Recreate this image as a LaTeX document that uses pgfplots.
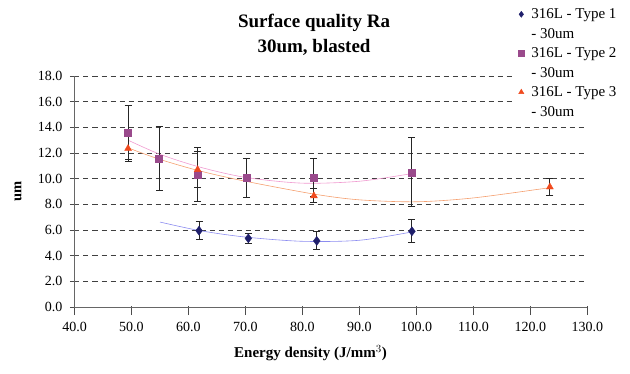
\documentclass[border=0pt]{standalone}
\usepackage{pgfplots}
\pgfplotsset{compat=1.18}
\usepackage{fontspec}
\setmainfont{Liberation Serif}
\definecolor{tOne}{HTML}{1F1F6B}
\definecolor{tTwo}{HTML}{9A4A8C}
\definecolor{tThree}{HTML}{F04A1E}
\definecolor{trOne}{HTML}{8C8CF0}
\definecolor{trTwo}{HTML}{F09AD0}
\definecolor{trThree}{HTML}{F5A070}
\begin{document}
\begin{tikzpicture}[x=1pt,y=1pt]
\useasboundingbox (0,0) rectangle (630,373);
\begin{axis}[
  at={(74.5pt,66pt)}, anchor=south west,
  scale only axis, width=513pt, height=231pt,
  xmin=40, xmax=130, ymin=0, ymax=18,
  xtick={40,50,...,130}, ytick={0,2,...,18},
  axis x line=bottom, axis y line=left,
  axis line style={-, black!60, line width=0.6pt},
  tick align=center, major tick length=9pt,
  tick style={black!70, line width=0.6pt},
  xtick style={yshift=-3.5pt},
  ymajorgrids, major grid style={dash pattern=on 5pt off 4pt, black!75, line width=0.6pt, yshift=0pt},
  ticklabel style={font=\fontsize{14}{16}\selectfont},
  /pgf/number format/assume math mode=true,
  xticklabel style={yshift=-7pt, /pgf/number format/.cd, fixed, fixed zerofill, precision=1},
  yticklabel style={xshift=-4pt, /pgf/number format/.cd, fixed, fixed zerofill, precision=1},
  xlabel={Energy density (J/mm$^{3}$)},
  xlabel style={font=\bfseries\fontsize{15}{17}\selectfont, at={(axis description cs:0.46,-0.2)}, anchor=center},
  ylabel={um},
  ylabel style={font=\bfseries\fontsize{14.5}{16}\selectfont, at={(axis description cs:-0.11,0.5)}, anchor=center},
  title={Surface quality Ra\\30um, blasted},
  title style={font=\bfseries\fontsize{19}{25}\selectfont, align=center, at={(axis description cs:0.467,1.257)}, anchor=north},
  legend style={at={(0.855,1.322)}, anchor=north west, draw=none, fill=white,
    font=\fontsize{15}{19.5}\selectfont, cells={align=left, inner sep=0pt}, row sep=4pt, column sep=5pt, inner sep=5pt},
  legend cell align=left,
  legend image post style={yshift=10pt, mark size=3pt},
]
% trend lines
\addplot[trOne, line width=0.6pt, smooth, forget plot] coordinates {
  (55,6.62) (62,5.95) (70,5.45) (80,5.12) (90,5.2) (99.2,5.85)};
\addplot[trTwo, line width=0.6pt, smooth, forget plot] coordinates {
  (49.4,13.0) (55,11.9) (62,10.9) (70,10.1) (80,9.65) (90,9.8) (99.2,10.4)};
\addplot[trThree, line width=0.6pt, smooth, forget plot] coordinates {
  (49.4,12.4) (55,11.5) (62,10.6) (70,9.8) (82,8.8) (90,8.35) (100,8.2) (110,8.5) (123.4,9.3)};
% data with error bars
\addplot[only marks, mark=diamond*, mark size=4.5pt, color=tOne,
  error bars/.cd, y dir=both, y explicit,
  error bar style={black!85, line width=1pt},
  error mark options={rotate=90, mark size=3.5pt, black!85, line width=1pt}]
  coordinates {
  (61.85,5.95) +- (0,0.7)
  (70.5,5.35) +- (0,0.4)
  (82.5,5.15) +- (0,0.7)
  (99.2,5.9) +- (0,0.9)
};
\addlegendentry{316L - Type 1\\- 30um}
\addplot[only marks, mark=square*, mark size=3.5pt, color=tTwo,
  error bars/.cd, y dir=both, y explicit,
  error bar style={black!85, line width=1pt},
  error mark options={rotate=90, mark size=3.5pt, black!85, line width=1pt}]
  coordinates {
  (49.4,13.6) +- (0,2.1)
  (54.85,11.55) +- (0,2.5)
  (61.6,10.3) +- (0,2.1)
  (70.2,10.05) +- (0,1.5)
  (82.0,10.1) +- (0,1.5)
  (99.2,10.5) +- (0,2.7)
};
\addlegendentry{316L - Type 2\\- 30um}
\addplot[only marks, mark=triangle*, mark size=4pt, color=tThree,
  error bars/.cd, y dir=both, y explicit,
  error bar style={black!85, line width=1pt},
  error mark options={rotate=90, mark size=3.5pt, black!85, line width=1pt}]
  coordinates {
  (49.4,12.35) +- (0,1.0)
  (61.6,10.7) +- (0,1.4)
  (82.0,8.66) +- (0,0.55)
  (123.4,9.35) +- (0,0.7)
};
\addlegendentry{316L - Type 3\\- 30um}
\end{axis}
\end{tikzpicture}
\end{document}
